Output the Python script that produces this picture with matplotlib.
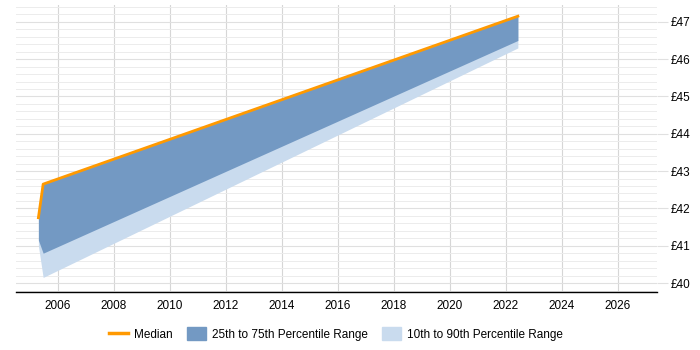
import matplotlib
matplotlib.use("Agg")
import matplotlib.pyplot as plt
import matplotlib.patches as mpatches
import matplotlib.lines as mlines
import numpy as np

years = [2005.3, 2005.47, 2022.43]
median = [41.75, 42.65, 47.15]
p25 = [41.15, 40.8, 46.5]
p75 = [41.75, 42.65, 47.15]
p10 = [41.0, 40.15, 46.3]
p90 = [41.75, 42.65, 47.15]
xticks = list(range(2006, 2027, 2))
yticks = list(range(40, 48))

fig = plt.figure(figsize=(7, 3.5), dpi=100)
ax = fig.add_axes([16/700, 1-292/350, (657-16)/700, (292-5)/350])

ax.fill_between(years, p10, p90, color="#c9dbee", lw=0, zorder=2)
ax.fill_between(years, p25, p75, color="#7399c3", lw=0, zorder=3)
ax.plot(years, median, color="#ff9900", lw=2, zorder=4)

ax.set_xlim(2004.5, 2027.4)
ax.set_ylim(39.76, 47.45)
ax.set_xticks(xticks)
ax.set_xticklabels([str(x) for x in xticks], fontsize=8.5, family="Liberation Sans")
ax.set_yticks(yticks)
ax.set_yticklabels([f"£{y}" for y in yticks], fontsize=8.5, family="Liberation Sans")
ax.set_yticks(np.arange(39.8, 47.45, 0.2), minor=True)
ax.yaxis.tick_right()
ax.tick_params(axis="y", which="major", length=8, color="#e0e0e0", pad=2)
ax.tick_params(axis="y", which="minor", length=0)
ax.tick_params(axis="x", length=0, pad=6)
ax.grid(axis="y", which="major", color="#e0e0e0", lw=0.8, zorder=0)
ax.grid(axis="y", which="minor", color="#ececec", lw=0.7, zorder=0)
ax.grid(axis="x", which="major", color="#d6d6d6", lw=0.8, zorder=0)
for s in ["top", "right", "left"]:
    ax.spines[s].set_visible(False)
ax.spines["bottom"].set_color("black")
ax.spines["bottom"].set_linewidth(1)
ax.set_axisbelow(True)

handles = [
    mlines.Line2D([], [], color="#ff9900", lw=2.5),
    mpatches.Patch(color="#7399c3"),
    mpatches.Patch(color="#c9dbee"),
]
labels = ["Median", "25th to 75th Percentile Range", "10th to 90th Percentile Range"]
fig.legend(handles, labels, loc="center", bbox_to_anchor=(336/700, 1-334/350), ncol=3,
           frameon=False, prop={"family": "Liberation Sans", "size": 8.5},
           handlelength=1.6, handleheight=1.2, columnspacing=1.2, handletextpad=0.5)

fig.savefig("out.png", dpi=100)
